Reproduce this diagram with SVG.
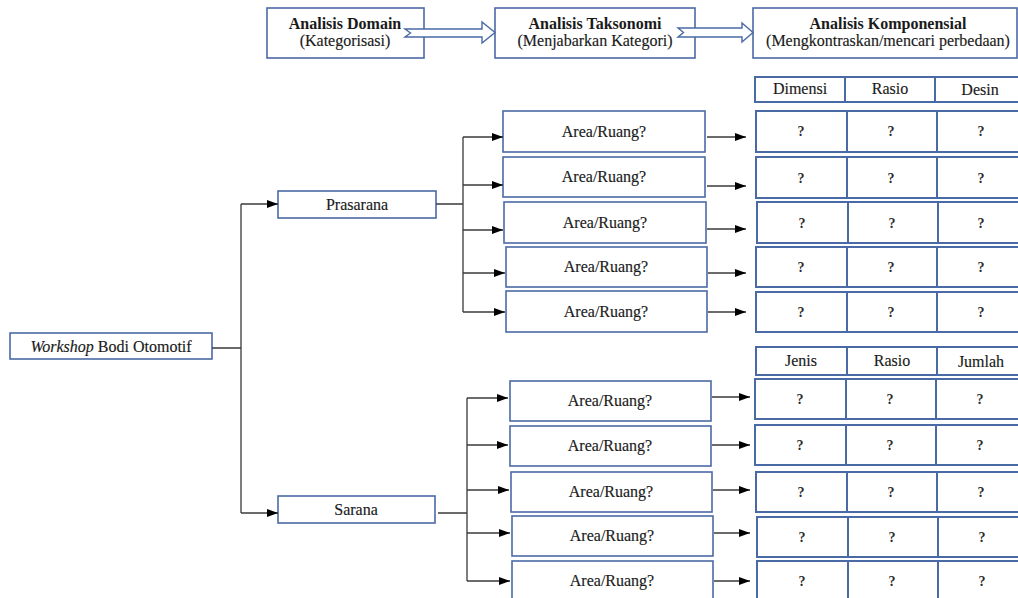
<svg xmlns="http://www.w3.org/2000/svg" width="1018" height="598" viewBox="0 0 1018 598">
<style>
.box{fill:#fff;stroke:#4a6aa6;stroke-width:1.6}
.cell{fill:#fff;stroke:#4a6aa6;stroke-width:2}
.harrow{fill:#fff;stroke:#4a6aa6;stroke-width:1.4;stroke-linejoin:miter}
.t{font-family:"Liberation Serif","Times New Roman",serif;font-size:16px;fill:#1a1a1a;stroke:#1a1a1a;stroke-width:0.15;text-anchor:middle}
.b{font-weight:bold;stroke-width:0}
.q{font-family:"Liberation Serif","Times New Roman",serif;font-size:14px;font-weight:bold;fill:#2a2a2a;text-anchor:middle}
.ln{fill:none;stroke:#3a3a3a;stroke-width:1.3}
</style>
<defs>
<marker id="ah" markerUnits="userSpaceOnUse" markerWidth="11" markerHeight="8" refX="11" refY="4" orient="auto">
<path d="M0,0 L11,4 L0,8 z" fill="#000"/>
</marker>
</defs>

<!-- header boxes -->
<g id="analisis-domain">
<rect class="box" x="267" y="8" width="157" height="50"/>
<text class="t b" x="345" y="29">Analisis Domain</text>
<text class="t" x="345" y="46">(Kategorisasi)</text>
</g>
<g id="analisis-taksonomi">
<rect class="box" x="495" y="8" width="200" height="50"/>
<text class="t b" x="595" y="29">Analisis Taksonomi</text>
<text class="t" x="595" y="46">(Menjabarkan Kategori)</text>
</g>
<g id="analisis-komponensial">
<rect class="box" x="753" y="8" width="264" height="50"/>
<text class="t b" x="888" y="29">Analisis Komponensial</text>
<text class="t" x="888" y="46">(Mengkontraskan/mencari perbedaan)</text>
</g>

<!-- tree nodes -->
<g id="workshop">
<rect class="box" x="10" y="333" width="202" height="26"/>
<text class="t" x="111" y="352"><tspan font-style="italic">Workshop</tspan> Bodi Otomotif</text>
</g>
<g id="prasarana">
<rect class="box" x="278" y="191" width="158" height="27"/>
<text class="t" x="357" y="210">Prasarana</text>
</g>
<g id="sarana">
<rect class="box" x="278" y="496" width="157" height="27"/>
<text class="t" x="356" y="515">Sarana</text>
</g>

<g id="p-area-1"><rect class="box" x="503" y="111" width="202" height="41"/><text class="t" x="604" y="137">Area/Ruang?</text></g>
<g id="p-area-2"><rect class="box" x="503" y="157" width="202" height="40"/><text class="t" x="604" y="182">Area/Ruang?</text></g>
<g id="p-area-3"><rect class="box" x="504" y="202" width="202" height="41"/><text class="t" x="605" y="228">Area/Ruang?</text></g>
<g id="p-area-4"><rect class="box" x="506" y="247" width="201" height="40"/><text class="t" x="606" y="272">Area/Ruang?</text></g>
<g id="p-area-5"><rect class="box" x="506" y="291" width="201" height="41"/><text class="t" x="606" y="317">Area/Ruang?</text></g>

<g id="s-area-1"><rect class="box" x="510" y="381" width="201" height="40"/><text class="t" x="610" y="406">Area/Ruang?</text></g>
<g id="s-area-2"><rect class="box" x="510" y="426" width="201" height="40"/><text class="t" x="610" y="451">Area/Ruang?</text></g>
<g id="s-area-3"><rect class="box" x="511" y="472" width="201" height="40"/><text class="t" x="611" y="497">Area/Ruang?</text></g>
<g id="s-area-4"><rect class="box" x="512" y="516" width="201" height="40"/><text class="t" x="612" y="541">Area/Ruang?</text></g>
<g id="s-area-5"><rect class="box" x="512" y="561" width="201" height="42"/><text class="t" x="612" y="586">Area/Ruang?</text></g>

<!-- prasarana table -->
<g id="p-table">
<rect class="cell" x="755" y="77" width="90" height="25"/>
<rect class="cell" x="845" y="77" width="90" height="25"/>
<rect class="cell" x="935" y="77" width="86" height="25"/>
<text class="t" x="800" y="94">Dimensi</text>
<text class="t" x="890" y="94">Rasio</text>
<text class="t" x="980" y="95">Desin</text>
<rect class="cell" x="756" y="111" width="91" height="41"/><rect class="cell" x="847" y="111" width="90" height="41"/><rect class="cell" x="937" y="111" width="84" height="41"/>
<rect class="cell" x="756" y="157" width="91" height="41"/><rect class="cell" x="847" y="157" width="90" height="41"/><rect class="cell" x="937" y="157" width="84" height="41"/>
<rect class="cell" x="757" y="202" width="91" height="41"/><rect class="cell" x="848" y="202" width="90" height="41"/><rect class="cell" x="938" y="202" width="83" height="41"/>
<rect class="cell" x="756" y="247" width="91" height="40"/><rect class="cell" x="847" y="247" width="90" height="40"/><rect class="cell" x="937" y="247" width="84" height="40"/>
<rect class="cell" x="756" y="292" width="91" height="40"/><rect class="cell" x="847" y="292" width="90" height="40"/><rect class="cell" x="937" y="292" width="84" height="40"/>
<text class="q" x="801" y="136">?</text><text class="q" x="891" y="136">?</text><text class="q" x="981" y="136">?</text>
<text class="q" x="801" y="183">?</text><text class="q" x="891" y="183">?</text><text class="q" x="981" y="183">?</text>
<text class="q" x="802" y="228">?</text><text class="q" x="892" y="228">?</text><text class="q" x="981" y="228">?</text>
<text class="q" x="801" y="272">?</text><text class="q" x="891" y="272">?</text><text class="q" x="981" y="272">?</text>
<text class="q" x="801" y="317">?</text><text class="q" x="891" y="317">?</text><text class="q" x="981" y="317">?</text>
</g>

<!-- sarana table -->
<g id="s-table">
<rect class="cell" x="756" y="347" width="91" height="28"/>
<rect class="cell" x="847" y="347" width="90" height="28"/>
<rect class="cell" x="937" y="347" width="84" height="28"/>
<text class="t" x="801" y="366">Jenis</text>
<text class="t" x="892" y="366">Rasio</text>
<text class="t" x="981" y="367">Jumlah</text>
<rect class="cell" x="755" y="379" width="91" height="40"/><rect class="cell" x="846" y="379" width="90" height="40"/><rect class="cell" x="936" y="379" width="85" height="40"/>
<rect class="cell" x="755" y="425" width="91" height="40"/><rect class="cell" x="846" y="425" width="90" height="40"/><rect class="cell" x="936" y="425" width="85" height="40"/>
<rect class="cell" x="756" y="472" width="91" height="40"/><rect class="cell" x="847" y="472" width="90" height="40"/><rect class="cell" x="937" y="472" width="84" height="40"/>
<rect class="cell" x="757" y="517" width="91" height="40"/><rect class="cell" x="848" y="517" width="90" height="40"/><rect class="cell" x="938" y="517" width="83" height="40"/>
<rect class="cell" x="757" y="561" width="91" height="42"/><rect class="cell" x="848" y="561" width="90" height="42"/><rect class="cell" x="938" y="561" width="83" height="42"/>
<text class="q" x="800" y="404">?</text><text class="q" x="890" y="404">?</text><text class="q" x="980" y="404">?</text>
<text class="q" x="800" y="450">?</text><text class="q" x="890" y="450">?</text><text class="q" x="980" y="450">?</text>
<text class="q" x="801" y="497">?</text><text class="q" x="891" y="497">?</text><text class="q" x="981" y="497">?</text>
<text class="q" x="802" y="542">?</text><text class="q" x="892" y="542">?</text><text class="q" x="982" y="542">?</text>
<text class="q" x="802" y="586">?</text><text class="q" x="892" y="586">?</text><text class="q" x="982" y="586">?</text>
</g>

<!-- connectors -->
<g id="connectors">
<path class="harrow" d="M405,29 L482,29 L482,22 L495,32.5 L482,43 L482,37 L405,37 L410.5,33 Z"/>
<path class="harrow" d="M678,28 L742,28 L742,23 L753,32.5 L742,42 L742,37 L678,37 L683.5,32.5 Z"/>

<path class="ln" d="M212,348 H241 M241,204 V513"/>
<path class="ln" d="M241,204 H278" marker-end="url(#ah)"/>
<path class="ln" d="M241,513 H278" marker-end="url(#ah)"/>

<path class="ln" d="M436,204 H463 M463,137 V312"/>
<path class="ln" d="M463,137 H503" marker-end="url(#ah)"/>
<path class="ln" d="M463,185 H503" marker-end="url(#ah)"/>
<path class="ln" d="M463,230 H503" marker-end="url(#ah)"/>
<path class="ln" d="M463,273 H505" marker-end="url(#ah)"/>
<path class="ln" d="M463,312 H505" marker-end="url(#ah)"/>

<path class="ln" d="M707,137 H746" marker-end="url(#ah)"/>
<path class="ln" d="M707,186 H746" marker-end="url(#ah)"/>
<path class="ln" d="M707,229 H746" marker-end="url(#ah)"/>
<path class="ln" d="M708,273 H746" marker-end="url(#ah)"/>
<path class="ln" d="M708,312 H746" marker-end="url(#ah)"/>

<path class="ln" d="M438,513 H467 M467,398 V581"/>
<path class="ln" d="M467,398 H508" marker-end="url(#ah)"/>
<path class="ln" d="M467,445 H508" marker-end="url(#ah)"/>
<path class="ln" d="M467,490 H509" marker-end="url(#ah)"/>
<path class="ln" d="M467,533 H510" marker-end="url(#ah)"/>
<path class="ln" d="M467,581 H510" marker-end="url(#ah)"/>

<path class="ln" d="M712,397 H750" marker-end="url(#ah)"/>
<path class="ln" d="M712,445 H750" marker-end="url(#ah)"/>
<path class="ln" d="M713,490 H750" marker-end="url(#ah)"/>
<path class="ln" d="M714,533 H750" marker-end="url(#ah)"/>
<path class="ln" d="M714,581 H750" marker-end="url(#ah)"/>
</g>
</svg>
